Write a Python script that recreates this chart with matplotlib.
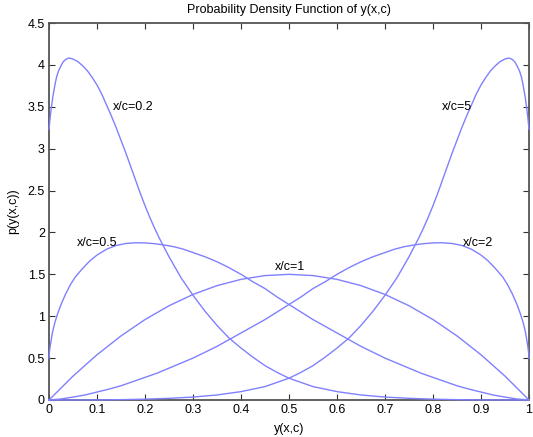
import matplotlib
matplotlib.use("Agg")
import matplotlib.pyplot as plt

# ---- data ----
y_a = [0.000, 0.002, 0.004, 0.008, 0.013, 0.016, 0.020, 0.025, 0.030, 0.035,
       0.040, 0.045, 0.050, 0.060, 0.070,
       0.080, 0.090, 0.100, 0.110, 0.120, 0.130, 0.140, 0.150, 0.160, 0.170,
       0.180, 0.190, 0.200, 0.210, 0.220, 0.230, 0.240, 0.250, 0.260, 0.275,
       0.300, 0.325, 0.350, 0.375, 0.400, 0.425, 0.450, 0.475, 0.500, 0.550,
       0.600, 0.650, 0.700, 0.750, 0.800, 0.850, 0.900, 1.000]
p_02 = [3.23, 3.35, 3.45, 3.62, 3.78, 3.86, 3.93, 3.99, 4.04, 4.065,
        4.08, 4.078, 4.07, 4.04, 3.99,
        3.93, 3.85, 3.76, 3.65, 3.52, 3.39, 3.25, 3.10, 2.95, 2.79,
        2.63, 2.47, 2.32, 2.18, 2.05, 1.93, 1.82, 1.71, 1.61, 1.46,
        1.25, 1.06, 0.89, 0.74, 0.62, 0.51, 0.41, 0.33, 0.26, 0.16,
        0.10, 0.06, 0.035, 0.02, 0.01, 0.004, 0.001, 0.0]

y_5 = [0.000, 0.100, 0.150, 0.200, 0.250, 0.300, 0.350, 0.400, 0.450, 0.500,
       0.525, 0.550, 0.575, 0.600, 0.625, 0.650, 0.675, 0.700, 0.725, 0.740,
       0.750, 0.760, 0.770, 0.780, 0.790, 0.800, 0.810, 0.820, 0.830, 0.840,
       0.850, 0.860, 0.870, 0.880, 0.890, 0.900, 0.910, 0.920, 0.930, 0.940,
       0.950, 0.955, 0.960, 0.965, 0.970, 0.975, 0.980, 0.984, 0.987, 0.992,
       0.996, 0.998, 1.000]
p_5 = [0.0, 0.001, 0.004, 0.01, 0.02, 0.035, 0.06, 0.10, 0.16, 0.26,
       0.33, 0.41, 0.51, 0.62, 0.74, 0.89, 1.06, 1.25, 1.46, 1.61,
       1.71, 1.82, 1.93, 2.05, 2.18, 2.32, 2.47, 2.63, 2.79, 2.95,
       3.10, 3.25, 3.39, 3.52, 3.65, 3.76, 3.85, 3.93, 3.99, 4.04,
       4.07, 4.078, 4.08, 4.065, 4.04, 3.99, 3.93, 3.86, 3.78, 3.62,
       3.45, 3.35, 3.23]

y_b = [0.000, 0.001, 0.003, 0.005, 0.007, 0.012, 0.018, 0.025, 0.035, 0.045,
       0.055, 0.070,
       0.085, 0.100, 0.120, 0.140, 0.160, 0.180, 0.200, 0.220, 0.240, 0.260,
       0.280, 0.300, 0.325, 0.350, 0.375, 0.400, 0.425, 0.450, 0.475, 0.500,
       0.525, 0.550, 0.575, 0.600, 0.625, 0.650, 0.675, 0.700, 0.725, 0.750,
       0.775, 0.800, 0.825, 0.850, 0.875, 0.900, 0.925, 0.950, 0.975, 1.000]
p_05 = [0.50, 0.58, 0.66, 0.73, 0.80, 0.92, 1.03, 1.14, 1.27, 1.38,
        1.47, 1.57,
        1.66, 1.73, 1.80, 1.845, 1.868, 1.877, 1.875, 1.866, 1.85, 1.83,
        1.80, 1.76, 1.71, 1.65, 1.58, 1.50, 1.41, 1.33, 1.23, 1.14,
        1.05, 0.96, 0.88, 0.80, 0.72, 0.64, 0.57, 0.50, 0.44, 0.38,
        0.32, 0.27, 0.22, 0.17, 0.13, 0.095, 0.06, 0.035, 0.012, 0.0]

y_2 = [0.000, 0.025, 0.050, 0.075, 0.100, 0.125, 0.150, 0.175, 0.200, 0.225,
       0.250, 0.275, 0.300, 0.325, 0.350, 0.375, 0.400, 0.425, 0.450, 0.475,
       0.500, 0.525, 0.550, 0.575, 0.600, 0.625, 0.650, 0.675, 0.700, 0.720,
       0.740, 0.760, 0.780, 0.800, 0.820, 0.840, 0.860, 0.880, 0.900, 0.915,
       0.930, 0.945, 0.955, 0.965, 0.975, 0.982, 0.988, 0.993, 0.995, 0.997,
       0.999, 1.000]
p_2 = [0.0, 0.012, 0.035, 0.06, 0.095, 0.13, 0.17, 0.22, 0.27, 0.32,
       0.38, 0.44, 0.50, 0.57, 0.64, 0.72, 0.80, 0.88, 0.96, 1.05,
       1.14, 1.23, 1.33, 1.41, 1.50, 1.58, 1.65, 1.71, 1.76, 1.80,
       1.83, 1.85, 1.866, 1.875, 1.877, 1.868, 1.845, 1.80, 1.73, 1.66,
       1.57, 1.47, 1.38, 1.27, 1.14, 1.03, 0.92, 0.80, 0.73, 0.66,
       0.58, 0.50]

y_1 = [0.00, 0.05, 0.10, 0.15, 0.20, 0.25, 0.30, 0.35, 0.40, 0.45, 0.50,
       0.55, 0.60, 0.65, 0.70, 0.75, 0.80, 0.85, 0.90, 0.95, 1.00]
p_1 = [0.0, 0.285, 0.54, 0.765, 0.96, 1.125, 1.26, 1.365, 1.44, 1.485, 1.5,
       1.485, 1.44, 1.365, 1.26, 1.125, 0.96, 0.765, 0.54, 0.285, 0.0]

curve_labels = ["x/c=0.2", "x/c=0.5", "x/c=1", "x/c=2", "x/c=5"]
label_pos = [(0.133, 3.5), (0.058, 1.875), (0.470, 1.59), (0.862, 1.875), (0.818, 3.5)]

x_ticks = [0, 0.1, 0.2, 0.3, 0.4, 0.5, 0.6, 0.7, 0.8, 0.9, 1]
x_ticklabels = ["0", "0.1", "0.2", "0.3", "0.4", "0.5", "0.6", "0.7", "0.8", "0.9", "1"]
y_ticks = [0, 0.5, 1, 1.5, 2, 2.5, 3, 3.5, 4, 4.5]
y_ticklabels = ["0", "0.5", "1", "1.5", "2", "2.5", "3", "3.5", "4", "4.5"]

plt.rcParams['font.family'] = ['Liberation Sans', 'DejaVu Sans']

fig = plt.figure(figsize=(5.33, 4.37), dpi=100)
ax = fig.add_axes([49 / 533, 1 - 400 / 437, 480 / 533, 377 / 437])

col = '#8080ff'
for yy, pp in [(y_a, p_02), (y_b, p_05), (y_1, p_1), (y_2, p_2), (y_5, p_5)]:
    ax.plot(yy, pp, color=col, lw=1.0, clip_on=False, zorder=3)

for lab, (lx, ly) in zip(curve_labels, label_pos):
    ax.text(lx, ly, lab, fontsize=9, ha='left', va='center', color='black')

ax.set_xlim(0, 1)
ax.set_ylim(0, 4.5)
ax.set_xticks(x_ticks)
ax.set_xticklabels(x_ticklabels)
ax.set_yticks(y_ticks)
ax.set_yticklabels(y_ticklabels)
ax.tick_params(direction='in', top=True, right=True, length=4, width=0.8,
               labelsize=9, pad=3, colors='#333333', labelcolor='black')
for s in ax.spines.values():
    s.set_linewidth(1.3)
    s.set_color('#555555')

ax.set_title("Probability Density Function of y(x,c)", fontsize=9, pad=7)
ax.set_xlabel("y(x,c)", fontsize=9, labelpad=5)
ax.set_ylabel("p(y(x,c))", fontsize=9, labelpad=6)

fig.savefig("out.png", dpi=100)
